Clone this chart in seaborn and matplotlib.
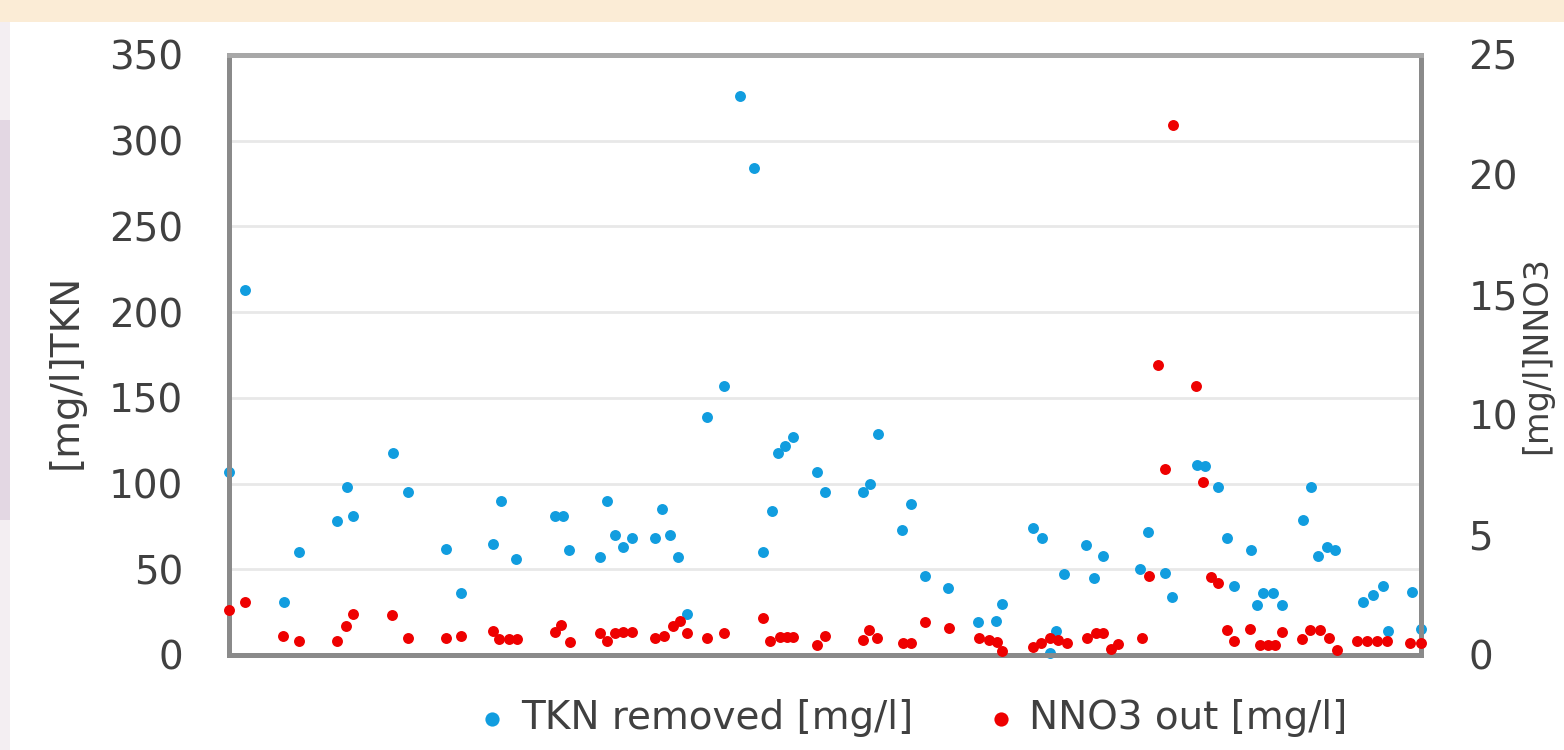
import numpy as np
import pandas as pd
import matplotlib
matplotlib.use("Agg")
import matplotlib.pyplot as plt
import seaborn as sns
from matplotlib.patches import Rectangle

tkn_day = [0.0, 2.1, 7.2, 9.1, 14.0, 15.3, 16.1, 21.3, 23.3, 28.2, 30.2, 34.3, 35.4, 37.3,
           42.4, 43.4, 44.2, 48.2, 49.2, 50.2, 51.2, 52.4, 55.4, 56.3, 57.3, 58.4, 59.6,
           62.2, 64.4, 66.5, 68.3, 69.4, 70.6, 71.4, 72.3, 73.3, 76.5, 77.5, 82.4, 83.4,
           84.4, 87.5, 88.7, 90.5, 93.5, 97.4, 99.7, 100.5, 104.6, 105.7, 106.8, 107.5,
           108.6, 111.4, 112.5, 113.7, 118.5, 119.5, 121.7, 122.6, 125.9, 126.9, 128.6,
           129.8, 130.7, 132.9, 133.7, 134.5, 135.8, 136.9, 139.6, 140.7, 141.6, 142.8,
           143.8, 147.5, 148.8, 150.1, 150.7, 153.8, 155.0]
tkn_removed = [107, 213, 31, 60, 78, 98, 81, 118, 95, 62, 36, 65, 90, 56,
               81, 81, 61, 57, 90, 70, 63, 68, 68, 85, 70, 57, 24,
               139, 157, 326, 284, 60, 84, 118, 122, 127, 107, 95, 95, 100,
               129, 73, 88, 46, 39, 19, 20, 30, 74, 68, 1, 14,
               47, 64, 45, 58, 50, 72, 48, 34, 111, 110, 98,
               68, 40, 61, 29, 36, 36, 29, 79, 98, 58, 63,
               61, 31, 35, 40, 14, 37, 15]

no3_day = [0.0, 2.1, 7.0, 9.1, 14.0, 15.2, 16.1, 21.2, 23.3, 28.2, 30.2, 34.3, 35.1, 36.4,
           37.5, 42.4, 43.2, 44.3, 48.2, 49.2, 50.2, 51.2, 52.4, 55.4, 56.6, 57.7, 58.6,
           59.6, 62.2, 64.4, 69.4, 70.4, 71.6, 72.6, 73.3, 76.5, 77.5, 82.4, 83.2, 84.3,
           87.6, 88.7, 90.5, 93.6, 97.5, 98.8, 99.9, 100.5, 104.6, 105.6, 106.8, 107.8,
           109.0, 111.6, 112.7, 113.7, 114.7, 115.6, 118.7, 119.6, 120.8, 121.7, 122.8,
           125.7, 126.7, 127.7, 128.6, 129.8, 130.7, 132.8, 134.0, 135.1, 136.0, 136.9,
           139.5, 140.6, 141.9, 143.0, 144.1, 146.7, 148.0, 149.3, 150.6, 153.6, 155.0]
no3_out = [1.88, 2.2, 0.8, 0.6, 0.6, 1.22, 1.7, 1.65, 0.72, 0.72, 0.8, 1.0, 0.65, 0.65,
           0.65, 0.94, 1.26, 0.55, 0.92, 0.58, 0.9, 0.95, 0.95, 0.72, 0.8, 1.22, 1.42,
           0.92, 0.72, 0.9, 1.55, 0.58, 0.74, 0.74, 0.74, 0.42, 0.8, 0.62, 1.05, 0.72,
           0.52, 0.52, 1.37, 1.12, 0.72, 0.63, 0.55, 0.18, 0.32, 0.5, 0.7, 0.62,
           0.52, 0.72, 0.9, 0.92, 0.25, 0.45, 0.72, 3.28, 12.07, 7.74, 22.1,
           11.2, 7.19, 3.25, 3.0, 1.04, 0.6, 1.08, 0.42, 0.42, 0.42, 0.95,
           0.65, 1.04, 1.04, 0.7, 0.2, 0.58, 0.58, 0.58, 0.58, 0.5, 0.5]

tkn_ticks = [0, 50, 100, 150, 200, 250, 300, 350]
no3_ticks = [0, 5, 10, 15, 20, 25]

tkn_df = pd.DataFrame({'day': tkn_day, 'tkn': tkn_removed})
no3_df = pd.DataFrame({'day': no3_day, 'no3': no3_out})

sns.set_theme(style='white')
plt.rcParams['font.family'] = ['DejaVu Sans']

text_col = '#404040'
blue = '#119ddf'
red = '#ee0000'

fig = plt.figure(figsize=(15.64, 7.5), dpi=100)
fig.patch.set_facecolor('white')

# faded photo-like border around the chart
fig.patches.append(Rectangle((0, 1 - 22 / 750), 1, 22 / 750, transform=fig.transFigure,
                             facecolor='#fbecd6', edgecolor='none', zorder=0))
fig.patches.append(Rectangle((0, 0), 10 / 1564, 1 - 22 / 750, transform=fig.transFigure,
                             facecolor='#f3eef2', edgecolor='none', zorder=0))
fig.patches.append(Rectangle((0, 1 - 520 / 750), 10 / 1564, 400 / 750, transform=fig.transFigure,
                             facecolor='#e3d7e3', edgecolor='none', zorder=0))

ax = fig.add_axes([229 / 1564, 1 - 655 / 750, 1192 / 1564, 600 / 750])
ax2 = ax.twinx()

sns.scatterplot(data=tkn_df, x='day', y='tkn', ax=ax, color=blue, s=62, linewidth=0,
                label='TKN removed [mg/l]', legend=False, clip_on=False, zorder=3)
sns.scatterplot(data=no3_df, x='day', y='no3', ax=ax2, color=red, s=62, linewidth=0,
                label='NNO3 out [mg/l]', legend=False, clip_on=False, zorder=3)

ax.set_xlim(0, 155)
ax.set_ylim(0, 350)
ax2.set_ylim(0, 25)
ax.set_xticks([])
ax.set_yticks(tkn_ticks)
ax2.set_yticks(no3_ticks)
ax.set_xlabel('')

ax.yaxis.grid(True, color='#e8e8e8', linewidth=2)
ax.set_axisbelow(True)
ax2.grid(False)

for a in (ax, ax2):
    for side in ('left', 'right', 'bottom'):
        a.spines[side].set_color('#8a8a8a')
        a.spines[side].set_linewidth(3.5)
    a.spines['top'].set_color('#a8a8a8')
    a.spines['top'].set_linewidth(3.5)

ax.tick_params(axis='y', length=0, pad=33, labelsize=28, labelcolor=text_col)
ax2.tick_params(axis='y', length=0, pad=34, labelsize=28, labelcolor=text_col)

ax.set_ylabel('[mg/l]TKN', fontsize=28, color=text_col)
ax.yaxis.set_label_coords(-0.121, 0.472)
ax2.set_ylabel('[mg/l]NNO3', fontsize=24, color=text_col)
ax2.yaxis.set_label_coords(1.083, 0.5)

h1, l1 = ax.get_legend_handles_labels()
h2, l2 = ax2.get_legend_handles_labels()
leg = fig.legend(h1 + h2, l1 + l2, loc='center', bbox_to_anchor=(0.5844, 1 - 718 / 750),
                 ncol=2, frameon=False, fontsize=28, handlelength=0.6, handletextpad=0.44,
                 columnspacing=1.95, borderaxespad=0, markerscale=1.3)
for t in leg.get_texts():
    t.set_color(text_col)

fig.savefig('out.png', dpi=100, facecolor=fig.get_facecolor())
